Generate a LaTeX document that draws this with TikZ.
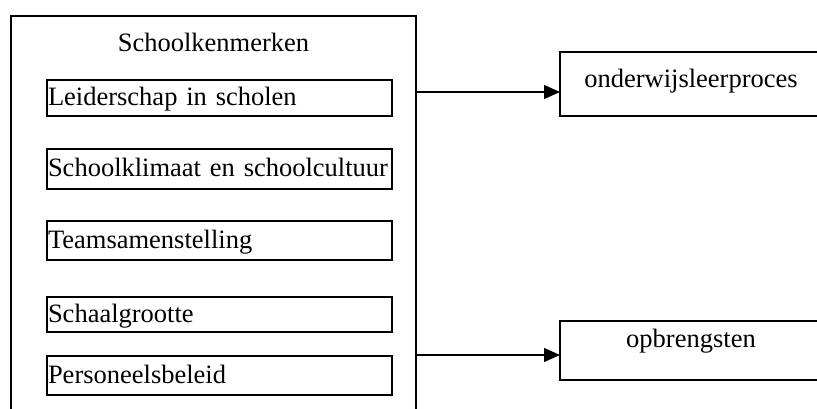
\documentclass[tikz,border=0pt]{standalone}
\usepackage{fontspec}
\setmainfont{Liberation Serif}
\usetikzlibrary{arrows.meta}
\begin{document}
\begin{tikzpicture}[x=1pt,y=-1pt,
  every node/.style={font=\fontsize{26.5}{30}\selectfont, inner sep=0pt, outer sep=0pt},
  frame/.style={draw, line width=1.2pt, anchor=north west},
  item/.style={frame, minimum width=345pt, align=left, text width=343pt, inner xsep=1pt, text height=21pt, text depth=6pt},
  conn/.style={line width=1.2pt, -{Triangle[length=16pt,width=14pt]}}
]
\useasboundingbox (0,0) rectangle (817,409);
\clip (0,0) rectangle (817,409);
% main container
\node[frame, minimum width=405pt, minimum height=440pt] (big) at (11,16) {};
\node[anchor=base] (title) at (213.5,52) {Schoolkenmerken};
% items
\node[item, minimum height=36pt] (lead) at (47,80) {Leiderschap in scholen};
\node[item, minimum height=40pt] (klim) at (47,149) {Schoolklimaat en schoolcultuur};
\node[item, minimum height=39pt] (team) at (47,221) {Teamsamenstelling};
\node[item, minimum height=35pt] (schaal) at (47,297) {Schaalgrootte};
\node[item, minimum height=39pt] (pers) at (47,356) {Personeelsbeleid};
% outcomes
\node[frame, minimum width=262pt, minimum height=64pt, text height=16pt, text depth=8pt] (ow) at (560,52) {onderwijsleerproces};
\node[frame, minimum width=262pt, minimum height=59pt, text height=10pt, text depth=17pt] (opb) at (560,321) {opbrengsten};
% connectors
\coordinate (y1) at (0,92);
\coordinate (y2) at (0,355);
\draw[conn] (big.east |- y1) -- (ow.west |- y1);
\draw[conn] (big.east |- y2) -- (opb.west |- y2);
\end{tikzpicture}
\end{document}
